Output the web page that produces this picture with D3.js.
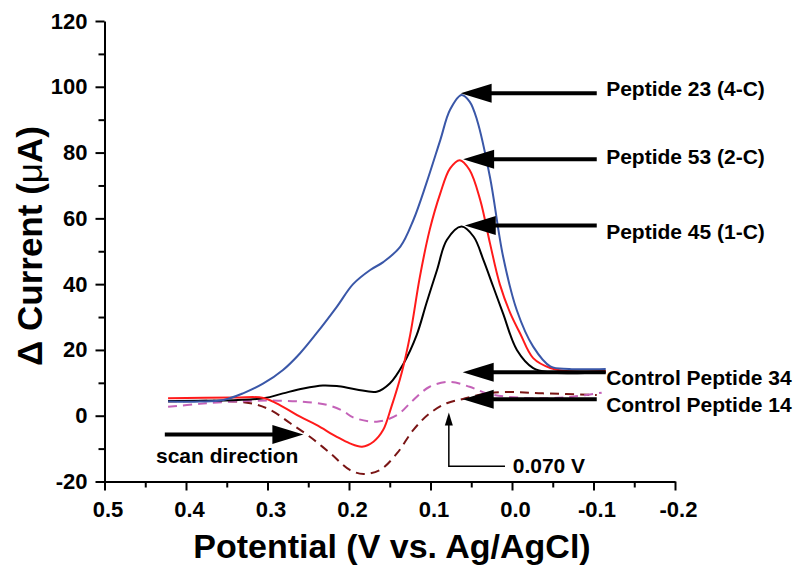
<!DOCTYPE html>
<html><head><meta charset="utf-8">
<script src="https://cdn.jsdelivr.net/npm/d3@7"></script>
<style>
body{margin:0;background:#fff}
svg{display:block}
text{font-family:"Liberation Sans",Arial,Helvetica,sans-serif;font-weight:bold;fill:#000}
</style>
</head><body><svg id="c" width="797" height="567"></svg>
<script>
// ---------- data ----------
const xMajor = [0.5, 0.4, 0.3, 0.2, 0.1, 0.0, -0.1, -0.2];
const xTickLabels = ["0.5", "0.4", "0.3", "0.2", "0.1", "0.0", "-0.1", "-0.2"];
const xMinor = [0.45, 0.35, 0.25, 0.15, 0.05, -0.05, -0.15];
const yMajor = [-20, 0, 20, 40, 60, 80, 100, 120];
const yTickLabels = ["-20", "0", "20", "40", "60", "80", "100", "120"];
const yMinor = [-10, 10, 30, 50, 70, 90, 110];

// Peptide 23 (4-C) – blue
const p23X = [0.422, 0.383, 0.354, 0.330, 0.305, 0.281, 0.260, 0.240, 0.215, 0.195, 0.174, 0.158, 0.137, 0.121, 0.105, 0.088, 0.076, 0.062, 0.052, 0.043, 0.027, 0.011, -0.006, -0.026, -0.047, -0.070, -0.115];
const p23Y = [4.3, 4.3, 4.8, 6.8, 9.8, 13.9, 19.0, 25.0, 33.1, 40.0, 44.3, 46.7, 51.4, 59.5, 70.7, 83.8, 93.0, 97.5, 95.5, 90.0, 72.5, 48.5, 32.0, 21.0, 15.0, 14.2, 14.2];
// Peptide 53 (2-C) – red
const p53X = [0.422, 0.340, 0.305, 0.281, 0.260, 0.240, 0.215, 0.199, 0.184, 0.170, 0.158, 0.148, 0.135, 0.125, 0.113, 0.101, 0.088, 0.076, 0.064, 0.052, 0.039, 0.027, 0.015, 0.002, -0.010, -0.026, -0.047, -0.070, -0.115];
const p53Y = [5.3, 5.5, 5.4, 2.7, -0.3, -2.8, -6.4, -8.4, -9.4, -7.9, -4.3, 2.7, 13.4, 24.5, 42.3, 56.5, 67.6, 75.2, 77.7, 74.7, 65.6, 52.4, 40.0, 31.1, 25.0, 17.5, 14.5, 13.5, 13.6];
// Peptide 45 (1-C) – black
const p45X = [0.422, 0.305, 0.281, 0.256, 0.232, 0.215, 0.191, 0.166, 0.150, 0.133, 0.117, 0.105, 0.092, 0.080, 0.062, 0.047, 0.035, 0.023, 0.011, -0.006, -0.026, -0.047, -0.070, -0.115];
const p45Y = [4.5, 5.3, 6.8, 8.3, 9.2, 9.0, 8.0, 7.3, 9.8, 15.9, 24.5, 34.2, 44.3, 53.4, 57.5, 54.4, 47.3, 39.2, 31.1, 20.0, 14.5, 13.2, 12.9, 13.2];
// Control Peptide 34 – magenta dashed
const c34X = [0.422, 0.383, 0.342, 0.301, 0.260, 0.227, 0.207, 0.195, 0.166, 0.141, 0.121, 0.101, 0.076, 0.052, 0.031, 0.007, -0.038, -0.075, -0.110];
const c34Y = [2.7, 3.6, 4.3, 4.6, 4.3, 3.3, 1.4, -0.5, -1.8, 0.2, 4.8, 8.8, 10.3, 8.8, 6.8, 5.8, 5.3, 5.8, 7.0];
// Control Peptide 14 – maroon dashed
const c14X = [0.422, 0.362, 0.321, 0.296, 0.272, 0.248, 0.223, 0.199, 0.182, 0.162, 0.141, 0.121, 0.101, 0.080, 0.060, 0.035, 0.011, -0.038, -0.104];
const c14Y = [4.3, 4.5, 3.8, 1.7, -2.3, -6.4, -11.4, -16.5, -17.7, -16.5, -11.4, -4.3, 0.7, 3.8, 5.1, 6.6, 7.2, 6.8, 6.3];

// annotation arrows (data coordinates)
const peakLabels = ["Peptide 23 (4-C)", "Peptide 53 (2-C)", "Peptide 45 (1-C)", "Control Peptide 34", "Control Peptide 14"];
const arrowTipX = [0.063, 0.060, 0.058, 0.0605, 0.0605];
const arrowTailX = [-0.104, -0.104, -0.104, -0.115, -0.104];
const arrowY = [98.0, 78.0, 57.8, 13.2, 5.0];
const labelX = -0.1155;
const labelY = [97.3, 76.6, 53.7, 9.3, 1.2];

// ---------- chart ----------
const svg = d3.select("#c");
const x = d3.scaleLinear().domain([0.5, -0.2]).range([104.5, 675]);
const y = d3.scaleLinear().domain([-20, 120]).range([481.5, 21]);

function styleAxis(g) {
  g.select(".domain").attr("stroke", "#000").attr("stroke-width", 2);
  g.selectAll(".tick line").attr("stroke", "#000").attr("stroke-width", 2);
  g.selectAll(".tick text").attr("font-size", 22).attr("fill", "#000")
    .attr("font-family", '"Liberation Sans",Arial,sans-serif').attr("font-weight", "bold");
}

// minor ticks
svg.append("g").attr("transform", "translate(104.5,0)")
  .call(d3.axisLeft(y).tickValues(yMinor).tickSize(6).tickFormat(""))
  .call(g => { g.select(".domain").remove(); g.selectAll("line").attr("stroke", "#000").attr("stroke-width", 2); });
svg.append("g").attr("transform", "translate(0,481.5)")
  .call(d3.axisBottom(x).tickValues(xMinor).tickSize(6).tickFormat(""))
  .call(g => { g.select(".domain").remove(); g.selectAll("line").attr("stroke", "#000").attr("stroke-width", 2); });

// major axes
svg.append("g").attr("transform", "translate(104.5,0)")
  .call(d3.axisLeft(y).tickValues(yMajor).tickFormat((d, i) => yTickLabels[i]).tickSize(9).tickPadding(8).tickSizeOuter(0))
  .call(styleAxis);
svg.append("g").attr("transform", "translate(0,481.5)")
  .call(d3.axisBottom(x).tickValues(xMajor).tickFormat((d, i) => xTickLabels[i]).tickSize(9).tickPadding(10.5).tickSizeOuter(0))
  .call(styleAxis)
  .call(g => g.selectAll(".tick text").attr("dx", 3));

// axis titles
const yt = svg.append("text").attr("transform", "translate(42,246) rotate(-90)")
  .attr("text-anchor", "middle").attr("font-size", 35);
yt.append("tspan").text("\u0394 Current (");
yt.append("tspan").attr("font-weight", "normal").text("\u03bc");
yt.append("tspan").text("A)");
svg.append("text").attr("x", 392).attr("y", 558).attr("text-anchor", "middle")
  .attr("font-size", 34).text("Potential (V vs. Ag/AgCl)");

// curves
const series = [
  {xs: c14X, ys: c14Y, color: "#7a1515", dash: "9,6"},
  {xs: c34X, ys: c34Y, color: "#c462b8", dash: "9,6"},
  {xs: p45X, ys: p45Y, color: "#000000", dash: null},
  {xs: p53X, ys: p53Y, color: "#ff1a1a", dash: null},
  {xs: p23X, ys: p23Y, color: "#3a57a8", dash: null}
];
const line = d3.line().x(d => x(d[0])).y(d => y(d[1])).curve(d3.curveCatmullRom.alpha(0.5));
svg.append("g").selectAll("path").data(series).join("path")
  .attr("d", s => line(s.xs.map((v, i) => [v, s.ys[i]])))
  .attr("fill", "none").attr("stroke", s => s.color).attr("stroke-width", 2)
  .attr("stroke-dasharray", s => s.dash);

// arrows
function arrow(g, x0, y0, x1, y1, w, headLen, headHalf) {
  const dx = x1 - x0, dy = y1 - y0, L = Math.hypot(dx, dy), ux = dx / L, uy = dy / L;
  const bx = x1 - ux * headLen, by = y1 - uy * headLen;
  g.append("line").attr("x1", x0).attr("y1", y0).attr("x2", bx + ux * 1).attr("y2", by + uy * 1)
    .attr("stroke", "#000").attr("stroke-width", w);
  g.append("path").attr("d", `M${x1},${y1}L${bx - uy * headHalf},${by + ux * headHalf}L${bx + uy * headHalf},${by - ux * headHalf}Z`)
    .attr("fill", "#000");
}
const ann = svg.append("g");
peakLabels.forEach((lab, i) => {
  arrow(ann, x(arrowTailX[i]), y(arrowY[i]), x(arrowTipX[i]), y(arrowY[i]), 4, 31, 9.5);
  ann.append("text").attr("x", x(labelX)).attr("y", y(labelY[i])).attr("font-size", 21).text(lab);
});

// scan direction
arrow(ann, x(0.426), y(-5.7), x(0.256), y(-5.7), 4, 31, 9.5);
ann.append("text").attr("x", x(0.4368)).attr("y", y(-14.5)).attr("font-size", 21).text("scan direction");

// 0.070 V marker
ann.append("path")
  .attr("d", `M${x(0.0086)},${y(-15.4)}H${x(0.0775)}V${y(1.0) + 12}`)
  .attr("fill", "none").attr("stroke", "#000").attr("stroke-width", 1.5);
ann.append("path")
  .attr("d", `M${x(0.0775)},${y(1.0)}L${x(0.0775) - 4},${y(1.0) + 13}L${x(0.0775) + 4},${y(1.0) + 13}Z`)
  .attr("fill", "#000");
ann.append("text").attr("x", x(-0.0009)).attr("y", y(-17.5)).attr("font-size", 21).text("0.070 V");
</script></body></html>
